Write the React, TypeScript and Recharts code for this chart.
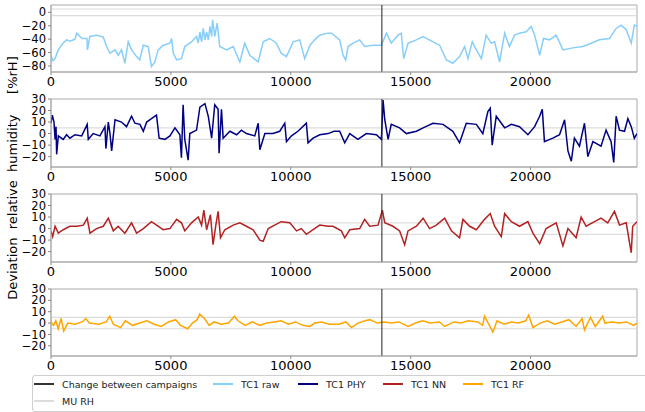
import React from "react";
import { LineChart, Line, XAxis, YAxis, ReferenceLine, ReferenceArea } from "recharts";

// [sample index, deviation in %rH]
const tc1Raw: [number, number][] = [
  [0, -64], [80, -72], [170, -69], [300, -56], [500, -46], [650, -41], [800, -43], [1000, -40], [1070, -31], [1300, -39],
  [1500, -39], [1520, -56], [1620, -36], [1900, -34], [2180, -37], [2320, -51], [2460, -61], [2670, -56],
  [2800, -64], [2940, -56], [3080, -76], [3220, -44], [3360, -56], [3570, -66], [3700, -71], [3850, -49],
  [4055, -51], [4190, -81], [4330, -74], [4470, -56], [4680, -49], [4960, -46], [5030, -39], [5100, -61],
  [5240, -71], [5440, -69], [5580, -51], [5860, -44], [6070, -36], [6140, -46], [6210, -29], [6280, -44], [6350, -24],
  [6420, -41], [6490, -29], [6560, -41], [6630, -21], [6700, -36], [6740, -11], [6830, -36], [6930, -16], [7040, -51],
  [7320, -56], [7600, -51], [7875, -74],
  [8080, -46], [8290, -64], [8640, -74], [8850, -44], [9125, -39], [9400, -46], [9600, -61], [9820, -66],
  [10100, -44], [10375, -41], [10580, -69], [10800, -49], [11000, -41], [11200, -34], [11550, -31], [11700, -31],
  [12040, -41], [12180, -64], [12290, -71], [12390, -51], [12600, -46], [12875, -41], [13080, -51], [13430, -49],
  [13780, -49], [13990, -31], [14190, -46], [14470, -34], [14610, -31], [14710, -69], [14890, -46], [15240, -41],
  [15515, -36], [15930, -44], [16210, -49], [16490, -71], [16760, -76], [17040, -66], [17250, -51], [17390, -69],
  [17570, -44], [17740, -56], [17950, -69], [18150, -34], [18360, -46], [18500, -44], [18710, -74], [18920, -31],
  [19120, -51], [19330, -34], [19540, -31], [19820, -29], [20030, -21], [20170, -34], [20380, -64], [20540, -39],
  [20790, -41], [21070, -34], [21350, -56], [21760, -53], [22180, -51], [22530, -46], [22870, -41], [23290, -39],
  [23570, -24], [23780, -19], [23990, -26], [24200, -46], [24330, -19], [24440, -21],
];

const tc1Phy: [number, number][] = [
  [0, 9], [55, 16], [125, 10], [170, -5], [210, 6], [235, -18], [305, -2], [510, -5], [650, -1], [790, -4], [1000, -1],
  [1280, -2], [1510, 8], [1555, -5], [1760, 0], [2040, -2], [2250, 6], [2290, -13], [2390, 10], [2460, 0],
  [2530, -15], [2670, 12], [2940, 10], [3150, 6], [3360, 15], [3500, 9], [3710, 8], [3850, 2], [3990, 10],
  [4190, 13], [4400, 16], [4510, -4], [4750, -5], [4960, -2], [5170, 5], [5375, -1], [5440, -21], [5510, 25],
  [5580, -5], [5720, -23], [5790, 0], [6070, 3], [6210, 23], [6420, 26], [6560, 15], [6700, -4], [6830, 25],
  [6970, 21], [7010, -17], [7110, 21], [7180, -4], [7460, 2], [7740, -1], [7940, 3], [8150, 0], [8500, -2],
  [8640, 9], [8710, -14], [8920, 0], [9260, 0], [9540, 2], [9750, 9], [9820, -7], [10030, -2], [10300, 2],
  [10650, 9], [10720, -8], [10930, -4], [11210, -1], [11560, 0], [11800, 2], [12040, 2], [12250, -8], [12460, 0],
  [12800, -5], [13150, 0], [13570, -1], [13780, -5], [13850, 29], [13920, 12], [14060, -5], [14190, 8], [14540, 5],
  [14820, 0], [15240, 2], [15520, 5], [15930, 9], [16350, 8], [16760, 2], [17040, -8], [17320, 9], [17740, 8],
  [18010, 0], [18220, 19], [18320, 22], [18400, -10], [18570, 15], [18920, 5], [19200, 8], [19540, 6], [19890, -1],
  [20170, 6], [20380, 15], [20490, 21], [20580, -7], [20930, -4], [21210, -1], [21420, 12], [21560, -15],
  [21700, -24], [21830, -4], [22040, -11], [22250, 9], [22390, -20], [22600, -7], [22940, -11], [23150, 3],
  [23360, -7], [23470, -25], [23570, 15], [23710, 3], [23920, 2], [24060, 13], [24200, 6], [24330, -4], [24440, 0],
];

const tc1Nn: [number, number][] = [
  [0, -2], [70, -7], [170, 2], [305, -4], [510, -1], [790, 2], [1070, 2], [1350, 3], [1510, 9], [1625, -4],
  [1900, 0], [2180, 2], [2390, 9], [2600, -2], [2800, 2], [3080, -4], [3360, 5], [3570, -4], [3850, 0], [4190, 6],
  [4400, 3], [4680, -1], [4960, 0], [5240, 8], [5440, 5], [5580, -2], [5860, 5], [6140, 10], [6280, 3], [6375, 16],
  [6490, -1], [6650, 12], [6760, -14], [6875, 3], [6970, 15], [7070, -8], [7250, -1], [7600, 3], [7875, 5],
  [8150, 2], [8430, -1], [8710, -10], [8850, -11], [9060, 0], [9330, 3], [9600, 6], [9960, 5], [10240, -2],
  [10440, 0], [10650, -5], [10930, -1], [11210, 3], [11560, 2], [11760, 2], [12110, -2], [12250, -8], [12460, -1],
  [12875, 0], [13080, 8], [13290, 2], [13640, 3], [13820, 16], [13920, 5], [14260, 2], [14540, -2], [14750, -14],
  [14890, -2], [15240, 2], [15520, 9], [15790, 0], [16070, 3], [16420, 9], [16700, -2], [17040, -8], [17180, 8],
  [17460, 2], [17740, -1], [18080, 8], [18320, 13], [18500, 2], [18780, -7], [18920, 13], [19200, 6], [19540, 2],
  [19890, 6], [20100, -4], [20380, -13], [20650, 0], [21070, 5], [21350, -15], [21560, 0], [21900, -8], [22110, 10],
  [22320, 2], [22670, 6], [22940, 9], [23220, 5], [23500, 15], [23710, 3], [23990, 5], [24200, -21], [24260, 2],
  [24440, 6],
];

const tc1Rf: [number, number][] = [
  [0, 1], [100, -2], [200, 2], [300, -5], [420, 4], [530, -7], [700, 0], [1000, -1], [1300, 1], [1450, 4],
  [1600, 0], [2000, -1], [2300, 1], [2450, 6], [2600, -1], [2900, -4], [3100, 2], [3400, -2], [3700, 0], [4000, 2],
  [4300, -1], [4600, -3], [4900, 1], [5200, 3], [5400, -2], [5700, -5], [5900, 0], [6100, 3], [6200, 8], [6400, 4],
  [6600, -2], [6800, 1], [7100, -1], [7400, 0], [7650, 6], [7800, 2], [8100, -2], [8400, 1], [8700, -2], [9000, 0],
  [9300, 1], [9600, 2], [9900, -1], [10200, 1], [10500, -2], [10800, -3], [11000, 0], [11300, 1], [11600, -1],
  [12000, -1], [12300, 1], [12530, -4], [12800, 0], [13100, 2], [13300, 3], [13600, 0], [13900, 1], [14200, 0],
  [14500, 1], [14900, -3], [15200, 0], [15500, 2], [15800, 0], [16200, 1], [16420, -3], [16800, 1], [17100, 0],
  [17400, 2], [17800, 1], [18000, -2], [18080, 6], [18430, -8], [18600, 2], [18900, -1], [19200, 1], [19500, 0],
  [19800, 2], [19920, 7], [20100, -4], [20400, 0], [20700, 2], [21000, -1], [21300, 1], [21600, 3], [21900, -3],
  [22150, 4], [22250, -6], [22500, 5], [22700, -3], [23010, 6], [23100, 0], [23400, 1], [23700, 0], [24000, 1],
  [24300, -2], [24440, 0],
];

const campaignChange = 13800;
const muRh = [5, -5];
const xTicks = [0, 5000, 10000, 15000, 20000];
const rawTicks = [0, -20, -40, -60, -80];
const devTicks = [30, 20, 10, 0, -10, -20];

const FONT = '"DejaVu Sans", "Liberation Sans", sans-serif';
const XMAX = 24440;
const PAD = 9;

const fmt = (v: number) => String(v).replace("-", "\u2212");

type PanelProps = {
  series: [number, number][];
  color: string;
  domain: [number, number];
  ticks: number[];
  top: number;
  plotHeight: number;
};

function Panel({ series, color, domain, ticks, top, plotHeight }: PanelProps) {
  const data = series.map(([x, y]) => ({ x, y }));
  return (
    <div style={{ position: "absolute", left: 0, top: top - PAD }}>
      <LineChart
        width={645}
        height={plotHeight + PAD + 25}
        data={data}
        margin={{ top: PAD, right: 8, bottom: 0, left: 5 }}
      >
        <XAxis
          dataKey="x"
          type="number"
          domain={[0, XMAX]}
          ticks={xTicks}
          interval={0}
          allowDataOverflow
          height={25}
          tick={{ fontSize: 13, fill: "#000", fontFamily: FONT }}
          tickSize={3}
          tickLine={{ stroke: "#888" }}
          axisLine={{ stroke: "#aaa" }}
        />
        <YAxis
          type="number"
          domain={domain}
          ticks={ticks}
          interval={0}
          allowDataOverflow
          width={46}
          tick={{ fontSize: 11.5, fill: "#000", fontFamily: FONT }}
          tickSize={3}
          tickFormatter={fmt}
          tickLine={{ stroke: "#888" }}
          axisLine={{ stroke: "#aaa" }}
        />
        {muRh.map((v) => (
          <ReferenceLine key={v} y={v} stroke="#dcdcdc" strokeWidth={1.2} />
        ))}
        <Line
          dataKey="y"
          type="linear"
          stroke={color}
          strokeWidth={1.5}
          dot={false}
          isAnimationActive={false}
        />
        <ReferenceLine x={campaignChange} stroke="#222" strokeWidth={1} />
        <ReferenceArea
          x1={0}
          x2={XMAX}
          y1={domain[0]}
          y2={domain[1]}
          fill="none"
          stroke="#aaa"
          strokeWidth={1}
        />
      </LineChart>
    </div>
  );
}

const legendItems = [
  { label: "Change between campaigns", color: "#333", x: 34, y: 384 },
  { label: "TC1 raw", color: "#87cefa", x: 213, y: 384 },
  { label: "TC1 PHY", color: "#000080", x: 298, y: 384 },
  { label: "TC1 NN", color: "#b22222", x: 383, y: 384 },
  { label: "TC1 RF", color: "#ffa500", x: 463, y: 384 },
  { label: "MU RH", color: "#dcdcdc", x: 34, y: 401 },
];

export default function App() {
  return (
    <div
      style={{
        position: "absolute",
        left: 0,
        top: 0,
        width: 645,
        height: 412,
        overflow: "hidden",
        background: "#fff",
        fontFamily: FONT,
      }}
    >
      <Panel series={tc1Raw} color="#87cefa" domain={[-89, 11]} ticks={rawTicks} top={5} plotHeight={67} />
      <Panel series={tc1Phy} color="#000080" domain={[-29, 30]} ticks={devTicks} top={99} plotHeight={68} />
      <Panel series={tc1Nn} color="#b22222" domain={[-29, 30]} ticks={devTicks} top={194} plotHeight={68} />
      <Panel series={tc1Rf} color="#ffa500" domain={[-29, 30]} ticks={devTicks} top={289} plotHeight={67} />

      <div
        style={{
          position: "absolute",
          left: 12,
          top: 178,
          transform: "translate(-50%, -50%) rotate(-90deg)",
          fontSize: 13,
          whiteSpace: "pre",
          color: "#000",
        }}
      >
        {"Deviation  relative  humidity     [%rH]"}
      </div>

      <div
        style={{
          position: "absolute",
          left: 32,
          top: 375,
          width: 660,
          height: 35,
          border: "1px solid #d0d0d0",
          borderRadius: 3,
          background: "#fff",
        }}
      />
      {legendItems.map((it) => (
        <div
          key={it.label}
          style={{
            position: "absolute",
            left: it.x,
            top: it.y - 8,
            height: 16,
            display: "flex",
            alignItems: "center",
            whiteSpace: "nowrap",
            fontSize: 9.5,
            color: "#222",
          }}
        >
          <span style={{ display: "inline-block", width: 20, height: 1.5, background: it.color, marginRight: 8 }} />
          {it.label}
        </div>
      ))}
    </div>
  );
}
